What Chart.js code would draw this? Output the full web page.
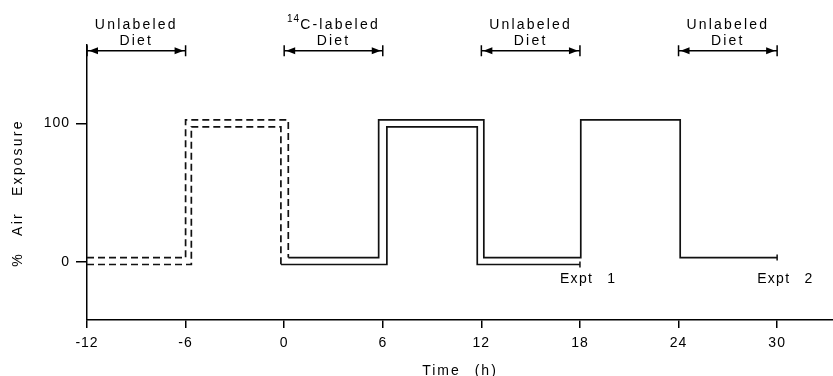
<!DOCTYPE html>
<html lang="en">
<head>
<meta charset="UTF-8" />
<title>Air Exposure Schedule</title>
<script src="https://cdn.jsdelivr.net/npm/chart.js"></script>
<style>
  html, body { margin: 0; padding: 0; background: #fff; }
</style>
</head>
<body>
<canvas id="airChart" width="833" height="376"></canvas>
<script>
// step times (h) and the % air exposure level held from each time onward
const expt1Times = [-12, -5.65, -0.2, 6.25, 11.75, 18];
const expt1Levels = [-2, 97.5, -2, 97.5, -2, -2];
const expt2Times = [-12, -6.0, 0.25, 5.75, 12.15, 18.05, 24.1, 30];
const expt2Levels = [3, 102.5, 3, 102.5, 3, 102.5, 3, 3];

const xTicks = [-12, -6, 0, 6, 12, 18, 24, 30];
const yTicks = [0, 100];

// diet periods shown with arrows above the traces
const dietPeriods = [[-12, -6], [0, 6], [12, 18], [24, 30]];
const dietSup = ["", "14", "", ""];
const dietNames = ["Unlabeled", "C-labeled", "Unlabeled", "Unlabeled"];
const exptNames = ["Expt 1", "Expt 2"];
const exptEnds = [18, 30];
const yTitle = "% Air Exposure";

const ink = "#000";
const family = "'Liberation Sans', Arial, Helvetica, sans-serif";

function stepSet(label, times, levels) {
  const last = times.length - 1;
  return {
    label: label,
    data: times.map((t, i) => ({ x: t, y: levels[i] })),
    stepped: true,
    fill: false,
    borderColor: "#111",
    borderWidth: 1.7,
    pointRadius: (c) => (c.dataIndex === last ? 3 : 0),
    pointStyle: "line",
    rotation: 90,
    pointBorderColor: "#111",
    pointBorderWidth: 1.5,
    // before the 14C diet starts the traces are dashed
    segment: { borderDash: (c) => (c.p1.parsed.x < 1 ? [7, 4] : undefined) },
  };
}

const annotations = {
  id: "annotations",
  beforeDraw(chart) {
    // the x title is drawn in the first layer
    chart.ctx.letterSpacing = "2px";
    chart.ctx.wordSpacing = "8px";
  },
  beforeDatasetsDraw(chart) {
    // tick labels (z: 1) come after the datasets
    chart.ctx.letterSpacing = "1px";
    chart.ctx.wordSpacing = "0px";
  },
  afterDraw(chart) {
    const { ctx, chartArea } = chart;
    const xs = chart.scales.x, ys = chart.scales.y;
    const yA = ys.getPixelForValue(152.5);
    ctx.save();
    ctx.strokeStyle = ink;
    ctx.fillStyle = ink;
    ctx.lineWidth = 1.5;
    ctx.letterSpacing = "2.2px";
    ctx.wordSpacing = "8px";

    dietPeriods.forEach((p, i) => {
      const x0 = xs.getPixelForValue(p[0]);
      const x1 = xs.getPixelForValue(p[1]);
      ctx.beginPath();
      ctx.moveTo(x0, yA); ctx.lineTo(x1, yA);
      ctx.moveTo(x0, yA - 5.5); ctx.lineTo(x0, yA + 5.5);
      ctx.moveTo(x1, yA - 5.5); ctx.lineTo(x1, yA + 5.5);
      ctx.stroke();
      ctx.beginPath();
      ctx.moveTo(x0 + 2, yA); ctx.lineTo(x0 + 11, yA - 3.5); ctx.lineTo(x0 + 11, yA + 3.5);
      ctx.closePath();
      ctx.moveTo(x1 - 2, yA); ctx.lineTo(x1 - 11, yA - 3.5); ctx.lineTo(x1 - 11, yA + 3.5);
      ctx.closePath();
      ctx.fill();

      const mid = (x0 + x1) / 2;
      ctx.textBaseline = "alphabetic";
      ctx.font = "14px " + family;
      ctx.letterSpacing = "2.2px";
      const wText = ctx.measureText(dietNames[i]).width;
      ctx.font = "10px " + family;
      ctx.letterSpacing = "1px";
      const wSup = dietSup[i] ? ctx.measureText(dietSup[i]).width : 0;
      const x = mid - (wText + wSup) / 2;
      ctx.textAlign = "left";
      if (dietSup[i]) ctx.fillText(dietSup[i], x, yA - 29);
      ctx.letterSpacing = "2.2px";
      ctx.font = "14px " + family;
      ctx.fillText(dietNames[i], x + wSup, yA - 22);
      ctx.textAlign = "center";
      ctx.fillText("Diet", mid, yA - 6);
    });

    // experiment names under the trace ends
    ctx.textAlign = "left";
    ctx.font = "14px " + family;
    ctx.letterSpacing = "1.3px";
    ctx.wordSpacing = "9px";
    const y0 = ys.getPixelForValue(0);
    exptNames.forEach((name, i) => {
      ctx.fillText(name, xs.getPixelForValue(exptEnds[i]) - 20, y0 + 21);
    });

    // y axis title
    ctx.letterSpacing = "2.2px";
    ctx.wordSpacing = "10px";
    ctx.translate(18, (chartArea.top + chartArea.bottom) / 2 + 10.5);
    ctx.rotate(-Math.PI / 2);
    ctx.textAlign = "center";
    ctx.textBaseline = "middle";
    ctx.fillText(yTitle, 0, 0);
    ctx.restore();
  },
};

new Chart(document.getElementById("airChart"), {
  type: "line",
  data: {
    datasets: [
      stepSet("Expt 1", expt1Times, expt1Levels),
      stepSet("Expt 2", expt2Times, expt2Levels),
    ],
  },
  options: {
    responsive: false,
    animation: false,
    layout: { autoPadding: false, padding: { top: 45, right: 0, bottom: 0, left: 0 } },
    plugins: { legend: { display: false }, tooltip: { enabled: false } },
    scales: {
      x: {
        type: "linear",
        min: -12,
        max: 33.4,
        afterBuildTicks: (s) => { s.ticks = xTicks.map((v) => ({ value: v })); },
        afterFit: (s) => { s.height = 56; },
        border: { display: true, color: ink, width: 1.5 },
        grid: { drawOnChartArea: false, drawTicks: true, tickLength: 8, color: ink, lineWidth: 1.5 },
        ticks: { color: ink, font: { family: family, size: 14 }, padding: 7, maxRotation: 0, autoSkip: false, z: 1 },
        title: { display: true, text: "Time (h)", color: ink, font: { family: family, size: 14 }, padding: { top: 0, bottom: -3.4 } },
      },
      y: {
        type: "linear",
        min: -42.1,
        max: 156.6,
        afterBuildTicks: (s) => { s.ticks = yTicks.map((v) => ({ value: v })); },
        afterFit: (s) => { s.width = 87; },
        border: { display: true, color: ink, width: 1.5 },
        grid: { drawOnChartArea: false, drawTicks: true, tickLength: 11, color: ink, lineWidth: 1.5 },
        ticks: { color: ink, font: { family: family, size: 14 }, padding: 6, z: 1 },
        title: { display: false },
      },
    },
  },
  plugins: [annotations],
});
</script>
</body>
</html>
